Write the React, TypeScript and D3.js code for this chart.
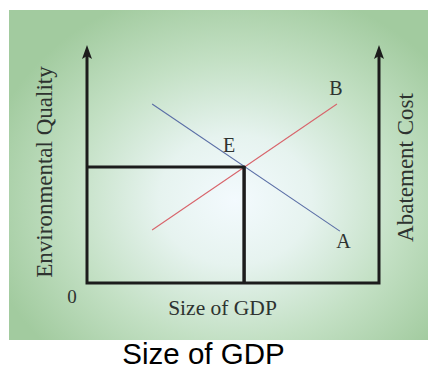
import React from "react";
import * as d3 from "d3";

const W = 428;
const H = 369;

// Data (abstract units 0..100 on both axes)
const xDomain = [0, 100];
const yDomain = [0, 100];
const lineA = [
  { x: 22.3, y: 75.2 },
  { x: 86.6, y: 21.8 },
]; // blue, ends at A
const lineB = [
  { x: 22.3, y: 22.3 },
  { x: 85.6, y: 75.2 },
]; // red, ends at B
const equilibrium = { x: 53.8, y: 48.7 };
const labels = { A: "A", B: "B", E: "E", origin: "0" };
const xTitle = "Size of GDP";
const yLeftTitle = "Environmental Quality";
const yRightTitle = "Abatement Cost";
const caption = "Size of GDP";

export default function App() {
  const x = d3.scaleLinear().domain(xDomain).range([87, 379]);
  const y = d3.scaleLinear().domain(yDomain).range([283, 45]);
  const line = d3
    .line<{ x: number; y: number }>()
    .x((d) => x(d.x))
    .y((d) => y(d.y));

  const serif = "'Liberation Serif', 'DejaVu Serif', serif";
  const ink = "#1c1c1c";
  const textCol = "#2e3330";
  const ex = x(equilibrium.x);
  const ey = y(equilibrium.y);
  const x0 = x(0);
  const y0 = y(0);
  const yTop = y(100);
  const xR = x(100);

  const arrow = (cx: number, tip: number) =>
    `M${cx},${tip} L${cx - 5},${tip + 14} L${cx},${tip + 11} L${cx + 5},${tip + 14} Z`;

  return (
    <svg
      width={W}
      height={H}
      style={{ position: "absolute", left: 0, top: 0, background: "#fff" }}
    >
      <defs>
        <radialGradient
          id="bg"
          gradientUnits="userSpaceOnUse"
          cx={235}
          cy={200}
          r={255}
          gradientTransform="translate(235,200) scale(1,0.85) translate(-235,-200)"
        >
          <stop offset="0" stopColor="#f3fafe" />
          <stop offset="0.3" stopColor="#e6f3ef" />
          <stop offset="0.65" stopColor="#c3e0c4" />
          <stop offset="1" stopColor="#a2cb9f" />
        </radialGradient>
      </defs>
      <rect x={9} y={10} width={419} height={330} fill="url(#bg)" />

      {/* curves */}
      <path d={line(lineA) || ""} stroke="#5a6ea6" strokeWidth={1.1} fill="none" />
      <path d={line(lineB) || ""} stroke="#d8646b" strokeWidth={1.1} fill="none" />

      {/* equilibrium guides */}
      <line x1={x0} y1={ey} x2={ex + 1} y2={ey} stroke={ink} strokeWidth={3} />
      <line x1={ex} y1={ey - 1} x2={ex} y2={y0} stroke={ink} strokeWidth={3.5} />

      {/* axes */}
      <path
        d={`M${x0},${yTop + 8} L${x0},${y0} L${xR},${y0} L${xR},${yTop + 8}`}
        stroke={ink}
        strokeWidth={3}
        fill="none"
        strokeLinejoin="miter"
      />
      <path d={arrow(x0, yTop)} fill={ink} />
      <path d={arrow(xR, yTop)} fill={ink} />

      {/* labels */}
      <g fontFamily={serif} fill={textCol}>
        <text x={x(lineB[1].x) - 1} y={95} fontSize={20} textAnchor="middle">
          {labels.B}
        </text>
        <text x={x(lineA[1].x) + 3.5} y={248} fontSize={20} textAnchor="middle">
          {labels.A}
        </text>
        <text x={ex - 15} y={152} fontSize={20} textAnchor="middle">
          {labels.E}
        </text>
        <text x={72} y={303} fontSize={19} textAnchor="middle">
          {labels.origin}
        </text>
        <text x={222.5} y={315} fontSize={21.5} textAnchor="middle">
          {xTitle}
        </text>
        <text
          transform="translate(52,172) rotate(-90)"
          fontSize={23}
          textAnchor="middle"
        >
          {yLeftTitle}
        </text>
        <text
          transform="translate(413,167.5) rotate(-90)"
          fontSize={23}
          textAnchor="middle"
        >
          {yRightTitle}
        </text>
      </g>
      <text
        x={203.5}
        y={364}
        fontSize={29.5}
        textAnchor="middle"
        fontFamily="'Liberation Sans', Arial, sans-serif"
        fill="#000"
      >
        {caption}
      </text>
    </svg>
  );
}
